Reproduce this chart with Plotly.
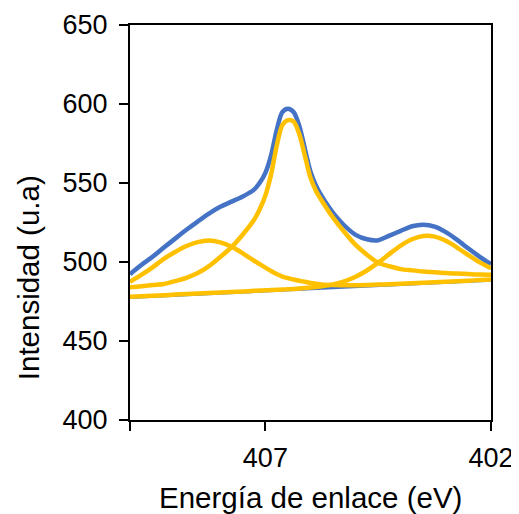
import plotly.graph_objects as go

# Binding energy grid (eV)
energy = [410.0, 409.75, 409.5, 409.25, 409.0, 408.75, 408.5, 408.25, 408.0, 407.75,
          407.5, 407.25, 407.125, 407.0, 406.875, 406.75, 406.625, 406.5, 406.375, 406.25,
          406.125, 406.0, 405.875, 405.75, 405.5, 405.25,
          405.0, 404.75, 404.5, 404.25, 404.0, 403.75, 403.5, 403.25, 403.0, 402.75,
          402.5, 402.25, 402.0]

# Envelope (blue)
envelope = [492.3, 498.1, 503.3, 509.1, 514.8, 520.4, 525.6, 530.6, 534.9, 538.2,
            541.5, 545.8, 550.1, 556.4, 567.3, 583.4, 594.8, 597.0, 594.9, 586.3,
            571.7, 557.2, 548.1, 541.6, 531.1, 523.1,
            517.2, 514.4, 513.8, 516.7, 519.7, 522.6, 523.6, 522.4, 518.9, 514.0,
            508.5, 503.3, 498.6]

# Component peaks (yellow)
peak_1 = [487.5, 491.8, 496.6, 502.0, 506.3, 510.1, 512.6, 513.6, 512.4, 509.6,
          505.5, 500.8, 498.6, 496.4, 494.3, 492.4, 490.8, 489.8, 488.9, 488.1,
          487.5, 486.8, 486.3, 485.8, 485.4, 485.3,
          485.3, 485.4, 485.7, 485.9, 486.16, 486.5, 486.84, 487.18, 487.52, 487.86,
          488.2, 488.54, 488.88]

peak_2 = [484.0, 484.6, 485.4, 486.1, 487.9, 490.0, 493.0, 497.4, 503.2, 509.4,
          517.4, 526.7, 533.4, 542.1, 555.3, 573.4, 586.6, 589.8, 588.9, 581.1,
          567.3, 553.4, 544.8, 538.8, 528.1, 519.0,
          510.8, 504.6, 499.5, 497.3, 495.5, 494.7, 494.0, 493.5, 493.0, 492.7,
          492.4, 492.1, 492.0]

peak_3 = [478.0, 478.34, 478.68, 479.02, 479.36, 479.7, 480.04, 480.38, 480.72, 481.06,
          481.4, 481.74, 481.91, 482.08, 482.25, 482.42, 482.59, 482.76, 482.93, 483.25,
          483.52, 483.84, 484.21, 484.58, 485.82, 487.76,
          490.7, 494.64, 499.58, 505.12, 510.36, 514.4, 516.44, 516.08, 513.42, 509.16,
          504.3, 499.74, 496.08]

# Background (blue, straight line)
background_x = [410.0, 402.0]
background_y = [477.4, 488.3]

x_ticks = [410, 407, 402]
x_tick_labels = ["", "407", "402"]
y_ticks = [400, 450, 500, 550, 600, 650]

BLUE = "#4472C4"
YELLOW = "#FFC000"

fig = go.Figure()
fig.add_trace(go.Scatter(x=background_x, y=background_y, mode="lines",
                         line=dict(color=BLUE, width=2.5)))
fig.add_trace(go.Scatter(x=energy, y=envelope, mode="lines",
                         line=dict(color=BLUE, width=4.5, shape="spline", smoothing=0.8)))
for comp in (peak_1, peak_2, peak_3):
    fig.add_trace(go.Scatter(x=energy, y=comp, mode="lines",
                             line=dict(color=YELLOW, width=4.5, shape="spline", smoothing=0.8)))

font_family = "Liberation Sans, Arial, sans-serif"

# The page body adds an 8 px margin, so the figure is 8 px smaller on each axis.
fig.update_layout(
    width=511, height=506,
    margin=dict(l=122, r=28, t=17, b=94, autoexpand=False),
    paper_bgcolor="white", plot_bgcolor="white",
    showlegend=False,
    font=dict(family=font_family, size=26, color="#000000"),
    xaxis=dict(range=[410, 402], tickvals=x_ticks, ticktext=x_tick_labels,
               showgrid=False, zeroline=False, showline=True, linecolor="black",
               linewidth=2, mirror=True, ticks="outside", ticklen=9, tickwidth=2,
               tickcolor="black", ticklabelstandoff=4, automargin=False,
               tickfont=dict(family=font_family, size=27, color="#000000")),
    yaxis=dict(range=[400, 650], tickvals=y_ticks,
               showgrid=False, zeroline=False, showline=True, linecolor="black",
               linewidth=2, mirror=True, ticks="outside", ticklen=9, tickwidth=2,
               tickcolor="black", ticklabelstandoff=6, automargin=False,
               tickfont=dict(family=font_family, size=27, color="#000000")),
    annotations=[
        dict(text="Energía de enlace (eV)", xref="paper", yref="paper",
             x=0.5, y=-0.195, xanchor="center", yanchor="middle", showarrow=False,
             font=dict(family=font_family, size=29.5, color="#000000")),
        dict(text="Intensidad (u.a)", xref="paper", yref="paper",
             x=-0.2825, y=0.359, xanchor="center", yanchor="middle", showarrow=False,
             textangle=-90,
             font=dict(family=font_family, size=29.5, color="#000000")),
    ],
)

fig.write_html("out.html")
